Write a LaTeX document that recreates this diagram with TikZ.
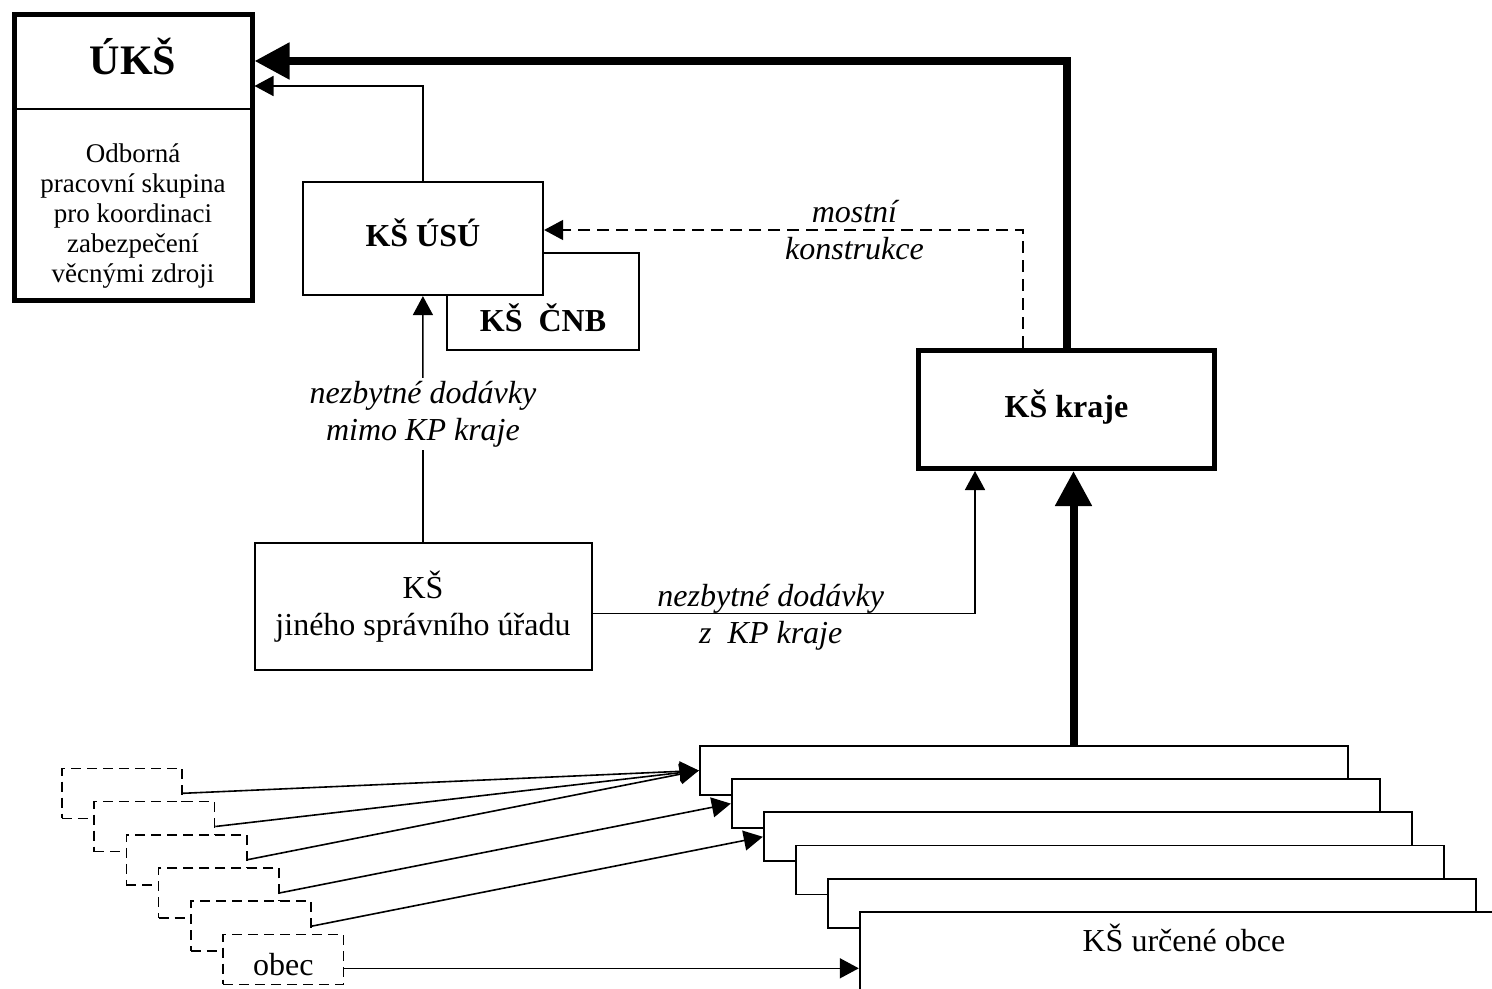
\documentclass[tikz,border=0pt]{standalone}
\usepackage{fontspec}
\setmainfont{Liberation Serif}
\usepackage{tikz}
\usetikzlibrary{arrows.meta,calc}

\begin{document}
\begin{tikzpicture}[x=0.5pt,y=-0.5pt,
  office/.style={draw,line width=1pt,fill=white,font=\fontsize{16}{18.3}\selectfont\bfseries,text height=11pt,text depth=3pt},
  chief/.style={office,line width=2.5pt},
  town/.style={draw,line width=0.9pt,fill=white,minimum width=324.2pt,minimum height=24.5pt},
  village/.style={draw,dash pattern=on 5pt off 3pt,line width=0.8pt,fill=white,minimum width=60.2pt,minimum height=25pt},
  txt/.style={font=\fontsize{16}{18.3}\selectfont,text height=11pt,text depth=3pt,inner sep=0pt},
  note/.style={font=\fontsize{16}{18.3}\selectfont\itshape,align=center,inner sep=1.5pt},
  arr/.style={-{Triangle[length=9.5pt,width=10pt]},line width=0.8pt},
  thickarr/.style={-{Triangle[length=17.5pt,width=17.5pt]},line width=4pt},
]
  \useasboundingbox (0,0) rectangle (1492,989);
  \clip (0,0) rectangle (1492,989);

  % UKS
  \node[font=\fontsize{21}{24}\selectfont\bfseries,text height=14pt,text depth=0pt] (ukst) at (133,61) {ÚKŠ};
  \node[font=\fontsize{13.5}{14.9}\selectfont,align=center] (uksd) at (133,216)
    {Odborná\\pracovní skupina\\pro koordinaci\\zabezpečení\\věcnými zdroji};
  \node[draw,line width=2.5pt,minimum width=118.75pt,minimum height=143.25pt] (uks) at (133.25,157.75) {};
  \draw[line width=0.75pt] (uks.west |- 0,109) -- (uks.east |- 0,109);

  % KS USU and KS CNB
  \node[office,minimum width=96.2pt,minimum height=48.5pt] (cnb) at (542.9,301.5) {};
  \node[txt,font=\fontsize{16}{18.3}\selectfont\bfseries] (cnbt) at (543,323.7) {KŠ\ \ ČNB};
  \node[office,minimum width=120.2pt,minimum height=56.7pt] (usu) at (422.9,238.4) {KŠ ÚSÚ};

  % KS kraje
  \node[chief,minimum width=148pt,minimum height=59pt] (kraj) at (1066.5,409.5) {KŠ kraje};

  % KS jineho spravniho uradu
  \node[draw,line width=1pt,font=\fontsize{16}{18.3}\selectfont,align=center,minimum width=168.5pt,minimum height=63.4pt] (jin) at (423,606.7)
    {KŠ\\jiného správního úřadu};

  % obce
  \node[village] (ob1) at (122,793.3) {};
  \node[village] (ob2) at (154.3,826.5) {};
  \node[village] (ob3) at (186.5,859.7) {};
  \node[village] (ob4) at (218.8,892.9) {};
  \node[village] (ob5) at (251,926.1) {};
  \node[village] (ob6) at (283.3,959.3) {};
  \node[txt] (obt) at (283.3,967) {obec};

  % KS urcene obce
  \node[town] (cs1) at (1023.9,770.5) {};
  \node[town] (cs2) at (1055.9,803.6) {};
  \node[town] (cs3) at (1087.9,836.8) {};
  \node[town] (cs4) at (1119.9,869.9) {};
  \node[town] (cs5) at (1151.9,903.1) {};
  \node[town,minimum height=75pt] (cs6) at (1183.9,986.7) {};
  \node[txt] (cst) at (1183.9,943.7) {KŠ určené obce};

  % Arrows
  \draw[thickarr] (kraj.north) |- (uks.east |- ukst);
  \draw[arr] (usu.north) |- ($(uks.east |- ukst)+(0,25)$);
  \draw[arr,dash pattern=on 6pt off 3.5pt] ($(kraj.north)+(-43.5,0)$) |- node[note,pos=0.676] (most) {mostní\\konstrukce} ($(usu.east)+(0,-8.4)$);
  \draw[arr] (jin.north) -- node[note,fill=white,pos=0.52] (mimo) {nezbytné dodávky\\mimo KP kraje} (usu.south);
  \draw[arr] ($(jin.east)+(0,6.6)$) -| node[note,pos=0.233,yshift=-2pt] (zkp) {nezbytné dodávky\\z\ \ KP kraje} ($(kraj.south)+(-91.5,0)$);
  \draw[thickarr] ($(cs1.north -| kraj.south)+(7,0)$) -- ($(kraj.south)+(7,0)$);
  \draw[arr] (ob1.east) -- (cs1.west);
  \draw[arr] (ob2.east) -- (cs1.west);
  \draw[arr] (ob3.east) -- (cs1.west);
  \draw[arr] (ob4.east) -- (cs2.west);
  \draw[arr] (ob5.east) -- (cs3.west);
  \draw[arr] ($(ob6.east)+(0,9)$) coordinate (obs) -- (obs -| cs6.west);
\end{tikzpicture}
\end{document}
